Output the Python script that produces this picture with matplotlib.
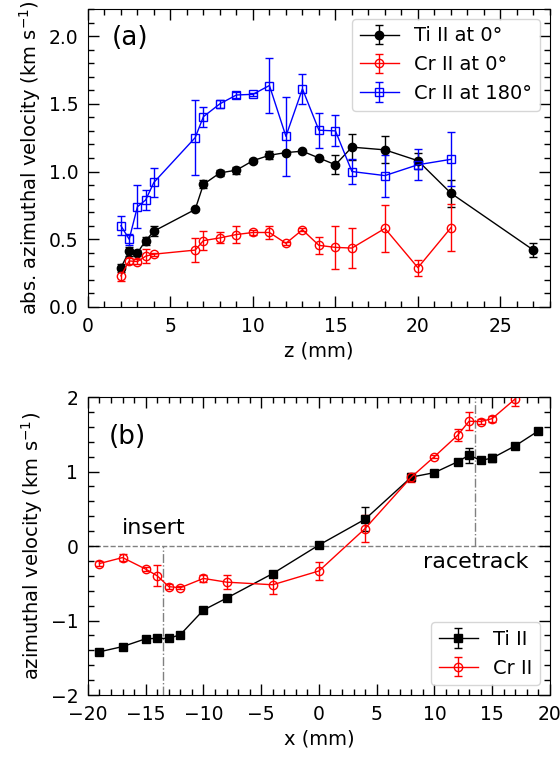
import matplotlib
matplotlib.use("Agg")
import matplotlib.pyplot as plt
from matplotlib.ticker import MultipleLocator, FormatStrFormatter

# ---------------- Panel (a) data ----------------
z_ti = [2, 2.5, 3, 3.5, 4, 6.5, 7, 8, 9, 10, 11, 12, 13, 14, 15, 16, 18, 20, 22, 27]
v_ti = [0.29, 0.41, 0.40, 0.49, 0.56, 0.72, 0.905, 0.99, 1.01, 1.08, 1.12, 1.14, 1.15, 1.10,
        1.05, 1.18, 1.16, 1.08, 0.84, 0.42]
e_ti = [0.03, 0.03, 0.02, 0.03, 0.035, 0.01, 0.03, 0.02, 0.025, 0.015, 0.03, 0.01, 0.01, 0.01,
        0.07, 0.095, 0.10, 0.06, 0.10, 0.05]

z_cr0 = [2, 2.5, 3, 3.5, 4, 6.5, 7, 8, 9, 10, 11, 12, 13, 14, 15, 16, 18, 20, 22]
v_cr0 = [0.23, 0.34, 0.335, 0.375, 0.39, 0.42, 0.49, 0.51, 0.535, 0.55, 0.55, 0.47, 0.57, 0.455,
         0.44, 0.435, 0.58, 0.29, 0.585]
e_cr0 = [0.04, 0.02, 0.02, 0.05, 0.01, 0.09, 0.07, 0.04, 0.065, 0.02, 0.045, 0.01, 0.01, 0.065,
         0.16, 0.15, 0.175, 0.06, 0.175]

z_cr180 = [2, 2.5, 3, 3.5, 4, 6.5, 7, 8, 9, 10, 11, 12, 13, 14, 15, 16, 18, 20, 22]
v_cr180 = [0.60, 0.50, 0.74, 0.79, 0.92, 1.25, 1.405, 1.50, 1.565, 1.57, 1.635, 1.26, 1.61, 1.305,
           1.30, 1.00, 0.97, 1.05, 1.09]
e_cr180 = [0.07, 0.04, 0.16, 0.075, 0.105, 0.275, 0.075, 0.03, 0.02, 0.01, 0.205, 0.29, 0.11, 0.13,
           0.115, 0.095, 0.155, 0.115, 0.20]

# ---------------- Panel (b) data ----------------
x_ti = [-19, -17, -15, -14, -13, -12, -10, -8, -4, 0, 4, 8, 10, 12, 13, 14, 15, 17, 19]
w_ti = [-1.42, -1.35, -1.245, -1.24, -1.24, -1.19, -0.86, -0.70, -0.37, 0.013, 0.36, 0.925,
        0.985, 1.13, 1.22, 1.15, 1.18, 1.345, 1.545]
we_ti = [0.02, 0.02, 0.02, 0.02, 0.02, 0.03, 0.02, 0.02, 0.02, 0.02, 0.16, 0.04, 0.02, 0.03,
         0.10, 0.02, 0.05, 0.02, 0.02]

x_cr = [-19, -17, -15, -14, -13, -12, -10, -8, -4, 0, 4, 8, 10, 12, 13, 14, 15, 17]
w_cr = [-0.235, -0.155, -0.31, -0.40, -0.545, -0.56, -0.435, -0.485, -0.52, -0.335, 0.235,
        0.925, 1.20, 1.485, 1.675, 1.67, 1.71, 1.975]
we_cr = [0.03, 0.05, 0.03, 0.14, 0.03, 0.02, 0.05, 0.095, 0.12, 0.12, 0.18, 0.06, 0.02, 0.08,
         0.12, 0.03, 0.04, 0.09]

insert_x = -13.5
racetrack_x = 13.5

FS = 14
TFS = 13.5
plt.rcParams['font.family'] = ['DejaVu Sans']
plt.rcParams['font.size'] = FS

fig = plt.figure(figsize=(5.6, 7.61), dpi=100)
ax1 = fig.add_axes([0.157, 0.5966, 0.825, 0.3916])
ax2 = fig.add_axes([0.157, 0.0867, 0.825, 0.3916])

ekw = dict(capsize=3, elinewidth=1, capthick=1, lw=1, ms=6)

ax1.errorbar(z_ti, v_ti, yerr=e_ti, fmt='-o', color='k', mfc='k', label='Ti II at 0°', **ekw)
ax1.errorbar(z_cr0, v_cr0, yerr=e_cr0, fmt='-o', color='r', mfc='none', label='Cr II at 0°', **ekw)
ax1.errorbar(z_cr180, v_cr180, yerr=e_cr180, fmt='-s', color='b', mfc='none', label='Cr II at 180°', **ekw)

ax1.set_xlim(0, 28)
ax1.set_ylim(0, 2.2)
ax1.xaxis.set_major_locator(MultipleLocator(5))
ax1.xaxis.set_minor_locator(MultipleLocator(1))
ax1.yaxis.set_major_locator(MultipleLocator(0.5))
ax1.yaxis.set_minor_locator(MultipleLocator(0.1))
ax1.yaxis.set_major_formatter(FormatStrFormatter('%.1f'))
ax1.set_xlabel('z (mm)', fontsize=FS)
ax1.set_ylabel(r'abs. azimuthal velocity (km s$^{-1}$)', fontsize=FS)
ax1.text(0.052, 0.945, '(a)', transform=ax1.transAxes, fontsize=19, va='top', ha='left')
ax1.legend(loc='upper right', fontsize=FS, handlelength=2.0, borderaxespad=0.5)

ax2.axhline(0, color='gray', ls='--', lw=1, zorder=0)
ax2.plot([insert_x, insert_x], [-2, 0], color='gray', ls='-.', lw=1, zorder=0)
ax2.plot([racetrack_x, racetrack_x], [0, 2], color='gray', ls='-.', lw=1, zorder=0)

ax2.errorbar(x_ti, w_ti, yerr=we_ti, fmt='-s', color='k', mfc='k', label='Ti II', **ekw)
ax2.errorbar(x_cr, w_cr, yerr=we_cr, fmt='-o', color='r', mfc='none', label='Cr II', **ekw)

ax2.text(-14.3, 0.157, 'insert', fontsize=16, ha='center', va='baseline')
ax2.text(13.55, -0.30, 'racetrack', fontsize=16, ha='center', va='baseline')

ax2.set_xlim(-20, 20)
ax2.set_ylim(-2, 2)
ax2.xaxis.set_major_locator(MultipleLocator(5))
ax2.xaxis.set_minor_locator(MultipleLocator(1))
ax2.yaxis.set_major_locator(MultipleLocator(1))
ax2.yaxis.set_minor_locator(MultipleLocator(0.2))
ax2.set_xlabel('x (mm)', fontsize=FS)
ax2.set_ylabel(r'azimuthal velocity (km s$^{-1}$)', fontsize=FS)
ax2.text(0.045, 0.91, '(b)', transform=ax2.transAxes, fontsize=19, va='top', ha='left')
ax2.legend(loc='lower right', fontsize=FS, handlelength=2.0, borderaxespad=0.5)

for ax in (ax1, ax2):
    ax.tick_params(which='both', direction='in', top=True, right=True, labelsize=TFS)
    ax.tick_params(which='major', length=8, width=1, pad=7)
    ax.tick_params(which='minor', length=4.5, width=1)

fig.savefig('out.png', dpi=100)
